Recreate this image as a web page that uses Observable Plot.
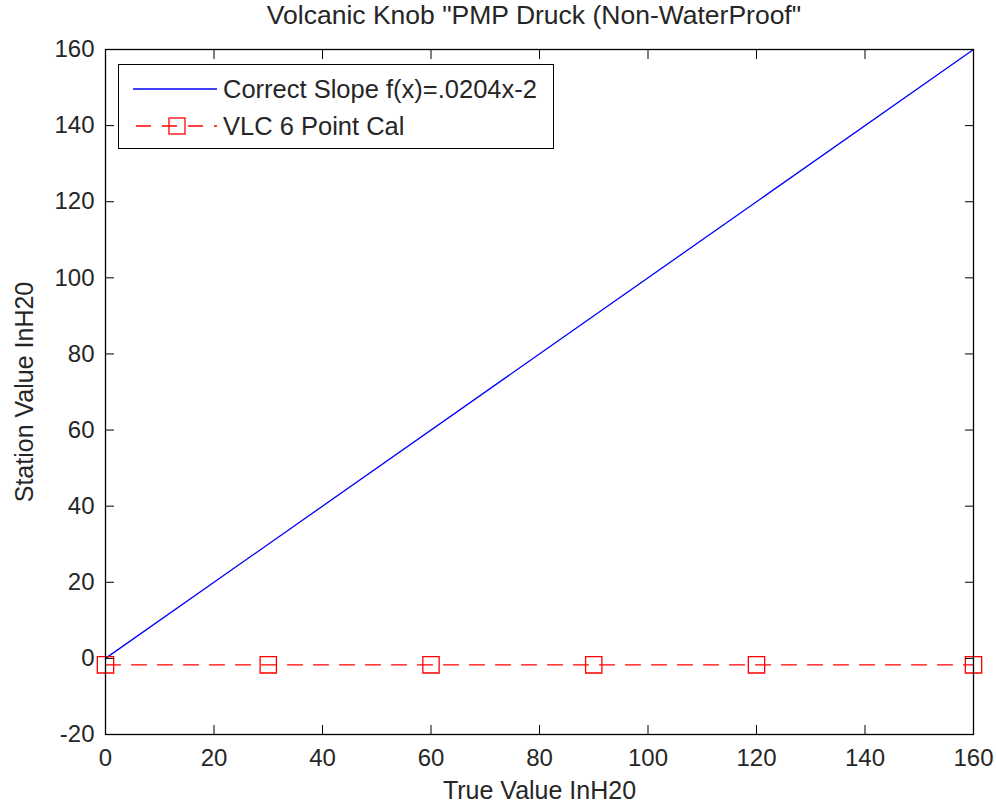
<!DOCTYPE html>
<html>
<head>
<meta charset="utf-8">
<script src="https://cdn.jsdelivr.net/npm/d3@7"></script>
<script src="https://cdn.jsdelivr.net/npm/@observablehq/plot@0.6"></script>
<style>
  html, body { margin: 0; padding: 0; background: #fff; }
  body { width: 996px; height: 804px; position: relative; overflow: hidden; font-family: "Liberation Sans", Arial, sans-serif; color: #262626; }
  #title { position: absolute; left: 0; top: 0; width: 1068px; height: 30px; line-height: 30px; text-align: center; font-size: 26.5px; white-space: nowrap; }
  #chart { position: absolute; left: 0; top: 30px; }
  #legend { position: absolute; left: 118px; top: 64px; width: 434px; height: 83px; border: 1px solid #000; background: #fff; }
  .row { position: absolute; left: 0; height: 30px; width: 100%; }
  .row svg { position: absolute; left: 14px; top: 0; }
  .row span { position: absolute; left: 104px; top: 0; line-height: 30px; font-size: 25.5px; white-space: nowrap; color: #262626; }
</style>
</head>
<body>
<div id="title"></div>
<div id="chart"></div>
<div id="legend"></div>
<script>
// ---- data ----
const titleText = 'Volcanic Knob "PMP Druck (Non-WaterProof"';
const xLabel = "True Value InH20";
const yLabel = "Station Value InH20";
const seriesNames = ["Correct Slope f(x)=.0204x-2", "VLC 6 Point Cal"];
const slopeX = [0, 160];
const slopeY = [0, 160];
const calX = [0, 30, 60, 90, 120, 160];
const calY = [-1.7, -1.7, -1.7, -1.7, -1.7, -1.7];
const xTicks = [0, 20, 40, 60, 80, 100, 120, 140, 160];
const yTicks = [-20, 0, 20, 40, 60, 80, 100, 120, 140, 160];

const slope = slopeX.map((x, i) => ({x, y: slopeY[i]}));
const cal = calX.map((x, i) => ({x, y: calY[i]}));

document.getElementById("title").textContent = titleText;

const fmt = d => String(d);
const tickOpts = {tickSize: -9, text: null, label: null, stroke: "#000"};
const chart = Plot.plot({
  width: 996,
  height: 774,
  marginLeft: 105,
  marginRight: 23,
  marginTop: 19,
  marginBottom: 70,
  style: {fontFamily: "'Liberation Sans', Arial, sans-serif", fontSize: "24px", color: "#262626", background: "#fff"},
  x: {domain: [0, 160]},
  y: {domain: [-20, 160]},
  marks: [
    Plot.line(slope, {x: "x", y: "y", stroke: "#0000ff", strokeWidth: 1.3}),
    Plot.line(cal, {x: "x", y: "y", stroke: "#ff0000", strokeWidth: 1.3, strokeDasharray: "15,11"}),
    Plot.dot(cal, {x: "x", y: "y", symbol: "square", r: 9.2, stroke: "#ff0000", strokeWidth: 1.3, fill: "none"}),
    Plot.axisX(xTicks, {anchor: "bottom", ...tickOpts}),
    Plot.axisX(xTicks, {anchor: "top", ...tickOpts}),
    Plot.axisY(yTicks, {anchor: "left", ...tickOpts}),
    Plot.axisY(yTicks, {anchor: "right", ...tickOpts}),
    Plot.axisX(xTicks, {anchor: "bottom", tickSize: 0, tickPadding: 14, label: null, tickFormat: fmt, fill: "#262626"}),
    Plot.axisY(yTicks, {anchor: "left", tickSize: 0, tickPadding: 11, label: null, tickFormat: fmt, fill: "#262626"}),
    Plot.frame({stroke: "#000", strokeWidth: 1.3}),
    Plot.text([xLabel], {text: d => d, frameAnchor: "bottom", dy: 64, fontSize: 25, fill: "#262626"}),
    Plot.text([yLabel], {text: d => d, frameAnchor: "left", textAnchor: "middle", rotate: -90, dx: -81, fontSize: 25, fill: "#262626"})
  ]
});
document.getElementById("chart").appendChild(chart);

// ---- legend ----
const legend = document.getElementById("legend");
const rows = [
  {name: seriesNames[0], color: "#0000ff", dash: null, marker: false, top: 9},
  {name: seriesNames[1], color: "#ff0000", dash: "15,11", marker: true, top: 46}
];
rows.forEach(r => {
  const row = document.createElement("div");
  row.className = "row";
  row.style.top = r.top + "px";
  const ns = "http://www.w3.org/2000/svg";
  const s = document.createElementNS(ns, "svg");
  s.setAttribute("width", 86); s.setAttribute("height", 30);
  const ln = document.createElementNS(ns, "line");
  ln.setAttribute("x1", 0); ln.setAttribute("x2", 84);
  ln.setAttribute("y1", 15); ln.setAttribute("y2", 15);
  ln.setAttribute("stroke", r.color); ln.setAttribute("stroke-width", 1.3);
  if (r.dash) { ln.setAttribute("stroke-dasharray", "15,11"); ln.setAttribute("stroke-dashoffset", -3); }
  s.appendChild(ln);
  if (r.marker) {
    const rc = document.createElementNS(ns, "rect");
    rc.setAttribute("x", 36); rc.setAttribute("y", 7); rc.setAttribute("width", 16); rc.setAttribute("height", 16);
    rc.setAttribute("fill", "none"); rc.setAttribute("stroke", r.color); rc.setAttribute("stroke-width", 1.3);
    s.appendChild(rc);
  }
  row.appendChild(s);
  const sp = document.createElement("span");
  sp.textContent = r.name;
  row.appendChild(sp);
  legend.appendChild(row);
});
</script>
</body>
</html>
